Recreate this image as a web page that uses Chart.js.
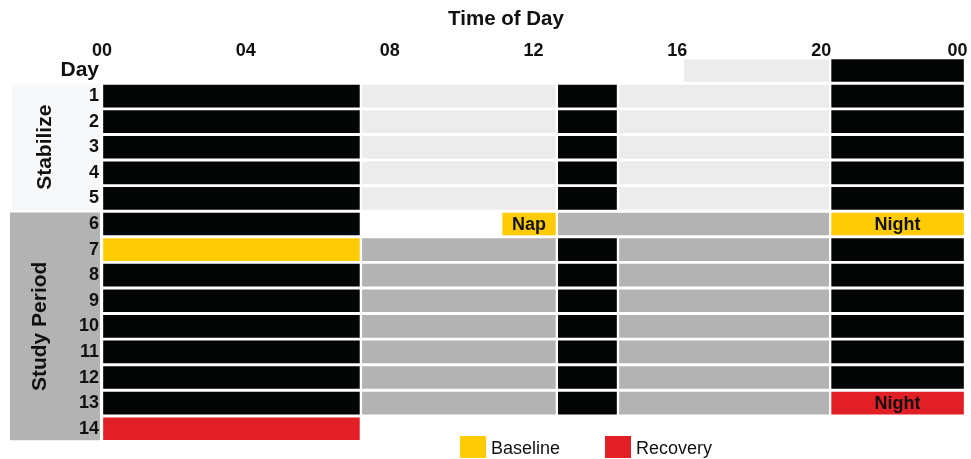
<!DOCTYPE html>
<html>
<head>
<meta charset="utf-8">
<script src="https://cdn.jsdelivr.net/npm/chart.js@4.4.1/dist/chart.umd.min.js"></script>
<style>
  html, body { margin: 0; padding: 0; background: #fff; }
  #wrap { width: 971px; height: 459px; }
</style>
</head>
<body>
<div id="wrap"><canvas id="schedule" width="971" height="459"></canvas></div>
<script>
// rows: header row "Day" then study days 1-14
const days = ['Day', '1', '2', '3', '4', '5', '6', '7', '8', '9', '10', '11', '12', '13', '14'];

// [day, start hour, end hour, label]
const stabilizeWake = [
  ['Day', 16.15, 20.25],
  ['1', 7.2, 12.65], ['1', 14.35, 20.25],
  ['2', 7.2, 12.65], ['2', 14.35, 20.25],
  ['3', 7.2, 12.65], ['3', 14.35, 20.25],
  ['4', 7.2, 12.65], ['4', 14.35, 20.25],
  ['5', 7.2, 12.65], ['5', 14.35, 20.25]
];
const studyWake = [
  ['6', 12.65, 20.25],
  ['7', 7.2, 12.65], ['7', 14.35, 20.25],
  ['8', 7.2, 12.65], ['8', 14.35, 20.25],
  ['9', 7.2, 12.65], ['9', 14.35, 20.25],
  ['10', 7.2, 12.65], ['10', 14.35, 20.25],
  ['11', 7.2, 12.65], ['11', 14.35, 20.25],
  ['12', 7.2, 12.65], ['12', 14.35, 20.25],
  ['13', 7.2, 12.65], ['13', 14.35, 20.25]
];
const sleep = [
  ['Day', 20.25, 24],
  ['1', 0, 7.2], ['1', 12.65, 14.35], ['1', 20.25, 24],
  ['2', 0, 7.2], ['2', 12.65, 14.35], ['2', 20.25, 24],
  ['3', 0, 7.2], ['3', 12.65, 14.35], ['3', 20.25, 24],
  ['4', 0, 7.2], ['4', 12.65, 14.35], ['4', 20.25, 24],
  ['5', 0, 7.2], ['5', 12.65, 14.35], ['5', 20.25, 24],
  ['6', 0, 7.2],
  ['7', 12.65, 14.35], ['7', 20.25, 24],
  ['8', 0, 7.2], ['8', 12.65, 14.35], ['8', 20.25, 24],
  ['9', 0, 7.2], ['9', 12.65, 14.35], ['9', 20.25, 24],
  ['10', 0, 7.2], ['10', 12.65, 14.35], ['10', 20.25, 24],
  ['11', 0, 7.2], ['11', 12.65, 14.35], ['11', 20.25, 24],
  ['12', 0, 7.2], ['12', 12.65, 14.35], ['12', 20.25, 24],
  ['13', 0, 7.2], ['13', 12.65, 14.35]
];
const baseline = [['6', 11.1, 12.65, 'Nap'], ['6', 20.25, 24, 'Night'], ['7', 0, 7.2]];
const recovery = [['13', 20.25, 24, 'Night'], ['14', 0, 7.2]];

const groups = [
  { name: 'Stabilize', from: '1', to: '5', color: '#f7f8fa', x: 12, textX: 45 },
  { name: 'Study Period', from: '6', to: '14', color: '#b3b3b3', x: 10, textX: 40 }
];

const FONT = "'Liberation Sans', Arial, Helvetica, sans-serif";
const INK = '#111111';

function toPoints(rows) {
  return rows.map(r => ({ y: r[0], x: [r[1], r[2]], label: r[3] }));
}

function makeSet(label, rows, color) {
  return {
    label: label,
    data: toPoints(rows),
    backgroundColor: color,
    borderColor: '#ffffff',
    borderWidth: 1.5,
    borderSkipped: false,
    barThickness: 25,
    grouped: false
  };
}

const decor = {
  id: 'decor',
  beforeDraw(chart) {
    const ctx = chart.ctx;
    const y = chart.scales.y;
    const left = chart.chartArea.left;
    ctx.save();
    ctx.fillStyle = '#fff';
    ctx.fillRect(0, 0, chart.width, chart.height);
    groups.forEach(g => {
      const top = y.getPixelForValue(days.indexOf(g.from)) - 11.5;
      const bottom = y.getPixelForValue(days.indexOf(g.to)) + 11.5;
      ctx.fillStyle = g.color;
      ctx.fillRect(g.x, top, left - 2 - g.x, bottom - top);
      ctx.save();
      ctx.translate(g.textX, (top + bottom) / 2);
      ctx.rotate(-Math.PI / 2);
      ctx.fillStyle = INK;
      ctx.font = 'bold 21px ' + FONT;
      ctx.textAlign = 'center';
      ctx.textBaseline = 'middle';
      ctx.fillText(g.name, 0, 0);
      ctx.restore();
    });
    ctx.restore();
  },
  afterDatasetsDraw(chart) {
    const ctx = chart.ctx;
    ctx.save();
    ctx.fillStyle = INK;
    ctx.font = 'bold 18px ' + FONT;
    ctx.textAlign = 'center';
    ctx.textBaseline = 'middle';
    chart.data.datasets.forEach((ds, i) => {
      const meta = chart.getDatasetMeta(i);
      ds.data.forEach((p, j) => {
        if (!p.label) return;
        const bar = meta.data[j];
        ctx.fillText(p.label, (bar.x + bar.base) / 2, bar.y + 1);
      });
    });
    ctx.restore();
  },
  afterDraw(chart) {
    const ctx = chart.ctx;
    ctx.save();
    // axis title, set a bit left of the plot centre like the original
    ctx.fillStyle = INK;
    ctx.font = 'bold 20.5px ' + FONT;
    ctx.textAlign = 'center';
    ctx.textBaseline = 'alphabetic';
    ctx.fillText('Time of Day', 506, 25);

    // legend
    const items = [['Baseline', '#ffcb05', 460], ['Recovery', '#e31f26', 605]];
    ctx.font = '18px ' + FONT;
    ctx.textAlign = 'left';
    items.forEach(it => {
      ctx.fillStyle = it[1];
      ctx.fillRect(it[2], 436, 26, 22);
      ctx.fillStyle = INK;
      ctx.fillText(it[0], it[2] + 31, 453.5);
    });
    ctx.restore();
  }
};

new Chart(document.getElementById('schedule').getContext('2d'), {
  type: 'bar',
  data: {
    labels: days,
    datasets: [
      makeSet('Wake (stabilize)', stabilizeWake, '#ececec'),
      makeSet('Wake (study)', studyWake, '#b3b3b3'),
      makeSet('Sleep', sleep, '#040505'),
      makeSet('Baseline', baseline, '#ffcb05'),
      makeSet('Recovery', recovery, '#e31f26')
    ]
  },
  options: {
    indexAxis: 'y',
    responsive: false,
    animation: false,
    devicePixelRatio: 1,
    layout: { padding: { top: 0, right: 6, bottom: 17.5, left: 0 } },
    plugins: {
      legend: { display: false },
      tooltip: { enabled: false }
    },
    scales: {
      x: {
        type: 'linear',
        position: 'top',
        min: 0,
        max: 24,
        grid: { display: false, drawTicks: false },
        border: { display: false },
        ticks: {
          stepSize: 4,
          padding: -4,
          color: INK,
          font: { family: FONT, size: 18, weight: 'bold' },
          maxRotation: 0,
          autoSkip: false,
          // last tick reads 00 again; trailing spaces pull it inside the edge
          callback: v => v === 24 ? '00\u00a0\u00a0\u00a0' : String(v).padStart(2, '0')
        },
        afterFit(scale) {
          scale.height = 57.7;
          scale.paddingLeft = 0;
          scale.paddingRight = 0;
        }
      },
      y: {
        type: 'category',
        grid: { display: false, drawTicks: false },
        border: { display: false },
        ticks: {
          padding: 3,
          autoSkip: false,
          color: INK,
          font: ctx => ({ family: FONT, size: ctx.index === 0 ? 21 : 18, weight: 'bold' })
        },
        afterFit(scale) {
          scale.width = 102;
          scale.paddingTop = 0;
          scale.paddingBottom = 0;
        }
      }
    }
  },
  plugins: [decor]
});
</script>
</body>
</html>
